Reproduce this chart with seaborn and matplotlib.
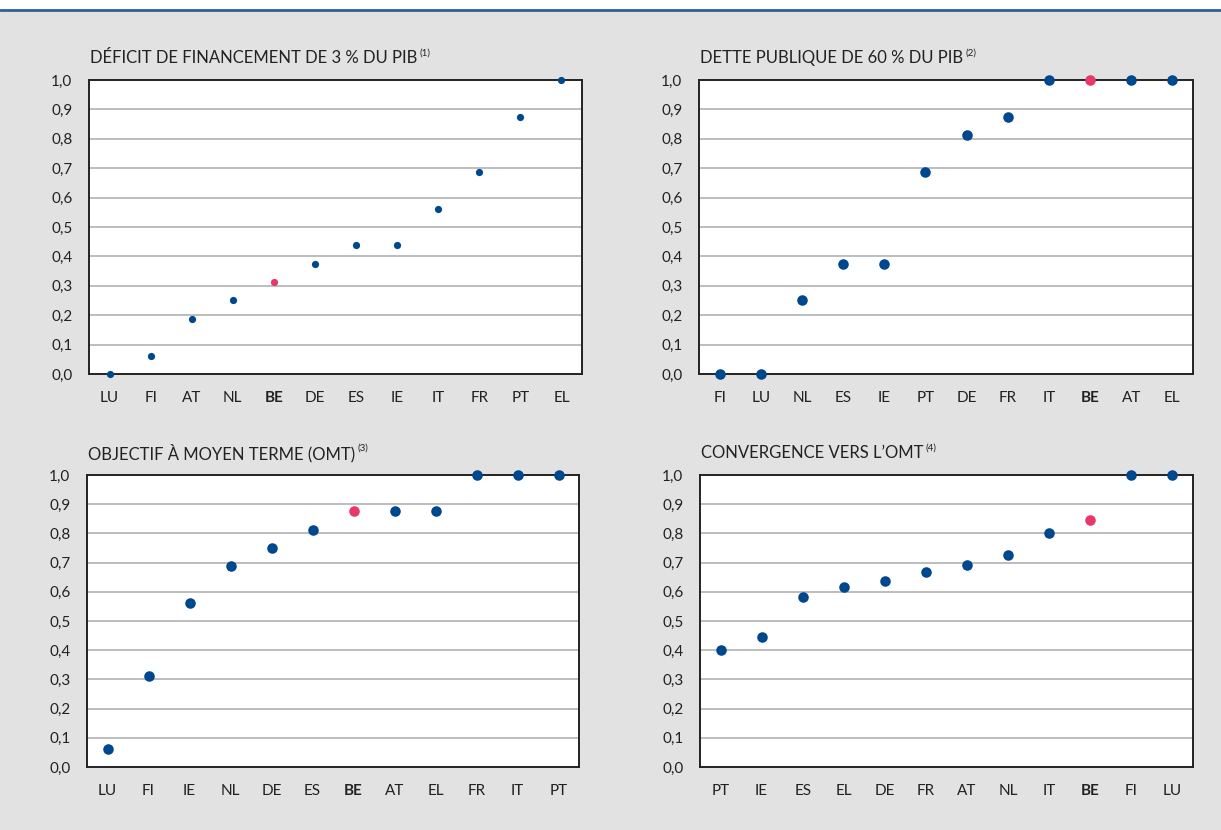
import numpy as np
import matplotlib
matplotlib.use("Agg")
import matplotlib.pyplot as plt
import seaborn as sns
from matplotlib.patches import Rectangle
from matplotlib.lines import Line2D

# panel data (scores between 0 and 1)
deficit_countries = ["LU", "FI", "AT", "NL", "BE", "DE", "ES", "IE", "IT", "FR", "PT", "EL"]
deficit_values = [0.0, 0.0625, 0.1875, 0.25, 0.3125, 0.375, 0.4375, 0.4375, 0.5625, 0.6875, 0.875, 1.0]

dette_countries = ["FI", "LU", "NL", "ES", "IE", "PT", "DE", "FR", "IT", "BE", "AT", "EL"]
dette_values = [0.0, 0.0, 0.25, 0.375, 0.375, 0.6875, 0.8125, 0.875, 1.0, 1.0, 1.0, 1.0]

omt_countries = ["LU", "FI", "IE", "NL", "DE", "ES", "BE", "AT", "EL", "FR", "IT", "PT"]
omt_values = [0.0625, 0.3125, 0.5625, 0.6875, 0.75, 0.8125, 0.875, 0.875, 0.875, 1.0, 1.0, 1.0]

conv_countries = ["PT", "IE", "ES", "EL", "DE", "FR", "AT", "NL", "IT", "BE", "FI", "LU"]
conv_values = [0.40, 0.445, 0.583, 0.615, 0.636, 0.667, 0.692, 0.727, 0.80, 0.846, 1.0, 1.0]

titles = [
    "DÉFICIT DE FINANCEMENT DE 3 % DU PIB",
    "DETTE PUBLIQUE DE 60 % DU PIB",
    "OBJECTIF À MOYEN TERME (OMT)",
    "CONVERGENCE VERS L\u2019OMT",
]
notes = ["(1)", "(2)", "(3)", "(4)"]
y_ticks = [0.0, 0.1, 0.2, 0.3, 0.4, 0.5, 0.6, 0.7, 0.8, 0.9, 1.0]
y_labels = ["0,0", "0,1", "0,2", "0,3", "0,4", "0,5", "0,6", "0,7", "0,8", "0,9", "1,0"]

BLUE = "#00488e"
RED = "#e8386a"
BG = "#e2e2e2"

sns.set_style("white")
plt.rcParams["font.family"] = ["Lato", "DejaVu Sans"]

W, H = 1221, 830
fig = plt.figure(figsize=(W / 100, H / 100), dpi=100, facecolor=BG)

# white strip with blue rule at the top
fig.patches.append(Rectangle((0, 1 - 10 / H), 1, 10 / H, transform=fig.transFigure,
                             facecolor="white", edgecolor="none", zorder=0))
fig.lines.append(Line2D([0, 1], [1 - 10 / H, 1 - 10 / H], transform=fig.transFigure,
                        color="#2d5f9e", linewidth=2))

# axes boxes in pixels: left, top, right, bottom
boxes = [(89, 80, 582, 374), (699, 80, 1193, 374),
         (87, 475, 579, 767), (700, 475, 1193, 767)]
panels = [(deficit_countries, deficit_values, 5.2),
          (dette_countries, dette_values, 7.6),
          (omt_countries, omt_values, 7.6),
          (conv_countries, conv_values, 7.6)]

for (l, t, r, b), (cats, vals, msize), title, note in zip(boxes, panels, titles, notes):
    ax = fig.add_axes([l / W, 1 - b / H, (r - l) / W, (b - t) / H])
    ax.set_facecolor("white")
    group = ["BE" if c == "BE" else "other" for c in cats]
    sns.stripplot(x=cats, y=vals, hue=group, order=cats, palette={"BE": RED, "other": BLUE},
                  jitter=False, size=msize, linewidth=0, legend=False, ax=ax, zorder=5)
    for coll in ax.collections:
        coll.set_clip_on(False)
        coll.set_zorder(6)

    ax.set_ylim(0, 1.0)
    ax.set_xlim(-0.5, len(cats) - 0.5)
    ax.set_yticks(y_ticks)
    ax.set_yticklabels(y_labels)
    for y in y_ticks[1:-1]:
        ax.axhline(y, color="#b2b2b2", linewidth=1.2, zorder=1)

    ax.set_xticks(range(len(cats)))
    ax.set_xticklabels(cats)
    ax.set_xticks(np.arange(0.5, len(cats) - 1, 1.0), minor=True)
    ax.tick_params(axis="x", which="major", length=0, pad=12, labelsize=11, colors="#222222")
    ax.tick_params(axis="x", which="minor", direction="in", length=8, width=1.2, color="#222222")
    ax.tick_params(axis="y", direction="out", length=8, width=1.2, pad=4, labelsize=11,
                   colors="#222222")
    for lab in ax.get_xticklabels():
        if lab.get_text() == "BE":
            lab.set_fontweight("bold")
    for s in ax.spines.values():
        s.set_visible(True)
        s.set_color("#222222")
        s.set_linewidth(1.4)
    ax.set_xlabel("")
    ax.set_ylabel("")

    tx = fig.text(l / W + 0.001, 1 - (t - 22) / H, title, fontsize=12, color="#222222",
                  ha="left", va="center")
    fig.canvas.draw()
    bb = tx.get_window_extent()
    fig.text((bb.x1 + 2) / W, 1 - (t - 27) / H, note, fontsize=7, color="#222222",
             ha="left", va="center")

fig.savefig("out.png", dpi=100, facecolor=BG)
